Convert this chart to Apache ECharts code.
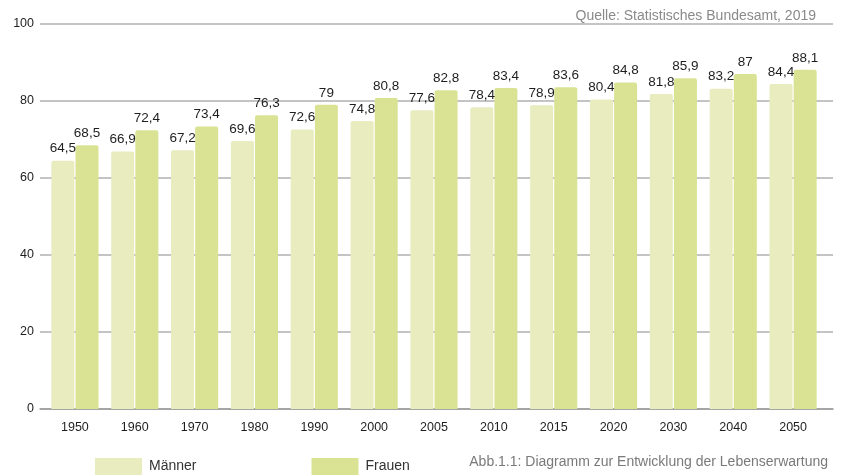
<!DOCTYPE html>
<html>
<head>
<meta charset="utf-8">
<script src="https://cdn.jsdelivr.net/npm/echarts@6/dist/echarts.min.js"></script>
<style>
  html, body { margin: 0; padding: 0; background: #fff; }
  #chart { width: 847px; height: 475px; }
</style>
</head>
<body>
<div id="chart"></div>
<script>
// Lebenserwartung bei Geburt, Jahre
const years = ['1950', '1960', '1970', '1980', '1990', '2000', '2005', '2010', '2015', '2020', '2030', '2040', '2050'];
const maenner = [64.5, 66.9, 67.2, 69.6, 72.6, 74.8, 77.6, 78.4, 78.9, 80.4, 81.8, 83.2, 84.4];
const frauen = [68.5, 72.4, 73.4, 76.3, 79, 80.8, 82.8, 83.4, 83.6, 84.8, 85.9, 87, 88.1];
const yTicks = { min: 0, max: 100, interval: 20 };

const FONT = '"Liberation Sans", Arial, sans-serif';
const fmt = v => String(v).replace('.', ',');

const chart = echarts.init(document.getElementById('chart'), null, { renderer: 'canvas' });

const barLabel = {
  show: true,
  position: 'top',
  distance: 5,
  color: '#1e1e1e',
  fontFamily: FONT,
  fontSize: 13.5,
  formatter: p => fmt(p.value)
};

chart.setOption({
  animation: false,
  textStyle: { fontFamily: FONT },
  title: [
    {
      text: 'Quelle: Statistisches Bundesamt, 2019',
      right: 26, top: 4,
      textStyle: { fontFamily: FONT, fontSize: 14, fontWeight: 'normal', color: '#8a8a8a' }
    },
    {
      text: 'Abb.1.1: Diagramm zur Entwicklung der Lebenserwartung',
      right: 14, top: 450,
      textStyle: { fontFamily: FONT, fontSize: 14, fontWeight: 'normal', color: '#7a7a7a' }
    }
  ],
  legend: {
    left: 95, top: 458, padding: 0,
    itemWidth: 47, itemHeight: 17, itemGap: 115,
    icon: 'rect',
    textStyle: { fontFamily: FONT, fontSize: 14, color: '#333', padding: [0, 0, 0, 2] },
    data: ['Männer', 'Frauen']
  },
  grid: [
    // bars
    { left: 45, right: 24, top: 24, bottom: 66 },
    // full-width gridlines and value labels
    { left: 40, right: 14, top: 24, bottom: 66 }
  ],
  xAxis: [
    {
      gridIndex: 0,
      type: 'category',
      data: years,
      axisLine: { show: false },
      axisTick: { show: false },
      axisLabel: { color: '#1e1e1e', fontFamily: FONT, fontSize: 12.5, margin: 12 }
    },
    {
      gridIndex: 1,
      type: 'value',
      min: 0, max: 1,
      axisLine: { show: true, onZero: false, lineStyle: { color: '#9a9a9a', width: 1.5 } },
      axisTick: { show: false },
      axisLabel: { show: false },
      splitLine: { show: false }
    }
  ],
  yAxis: [
    {
      gridIndex: 0,
      type: 'value',
      min: yTicks.min, max: yTicks.max, interval: yTicks.interval,
      axisLine: { show: false },
      axisTick: { show: false },
      axisLabel: { show: false },
      splitLine: { show: false }
    },
    {
      gridIndex: 1,
      type: 'value',
      min: yTicks.min, max: yTicks.max, interval: yTicks.interval,
      axisLine: { show: false },
      axisTick: { show: false },
      axisLabel: {
        color: '#1e1e1e', fontFamily: FONT, fontSize: 12.5, margin: 6,
        padding: [0, 0, 8, 0]
      },
      splitLine: { show: true, lineStyle: { color: '#c4c4c4', width: 2 } }
    }
  ],
  series: [
    {
      name: 'Männer',
      type: 'bar',
      xAxisIndex: 0, yAxisIndex: 0,
      data: maenner,
      barWidth: 23,
      barGap: '5%',
      itemStyle: { color: '#e8ecbf', borderRadius: [2, 2, 0, 0] },
      label: barLabel
    },
    {
      name: 'Frauen',
      type: 'bar',
      xAxisIndex: 0, yAxisIndex: 0,
      data: frauen,
      barWidth: 23,
      barGap: '5%',
      itemStyle: { color: '#dae393', borderRadius: [2, 2, 0, 0] },
      label: barLabel
    }
  ]
});
</script>
</body>
</html>
